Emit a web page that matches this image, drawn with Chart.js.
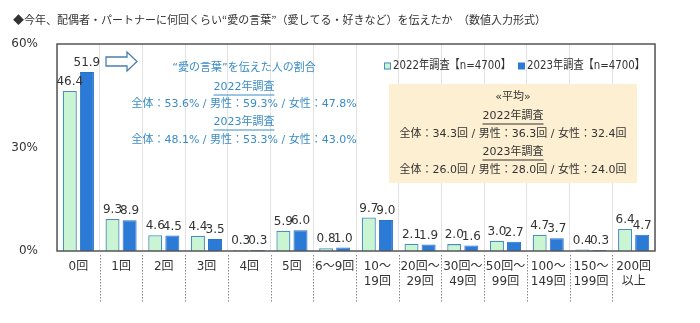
<!DOCTYPE html>
<html><head><meta charset="utf-8">
<script src="https://cdn.jsdelivr.net/npm/chart.js@4"></script>
<style>html,body{margin:0;padding:0;background:#fff;}#wrap{width:700px;height:323px;}</style>
</head><body><div id="wrap"><canvas id="c" width="700" height="323"></canvas></div>
<script>
const categories = [['0回'],['1回'],['2回'],['3回'],['4回'],['5回'],['6～9回'],['10～','19回'],['20回～','29回'],['30回～','49回'],['50回～','99回'],['100～','149回'],['150～','199回'],['200回','以上']];
const series2022 = [46.4, 9.3, 4.6, 4.4, 0.3, 5.9, 0.8, 9.7, 2.1, 2.0, 3.0, 4.7, 0.4, 6.4];
const series2023 = [51.9, 8.9, 4.5, 3.5, 0.3, 6.0, 1.0, 9.0, 1.9, 1.6, 2.7, 3.7, 0.3, 4.7];
const seriesNames = ['2022年調査【n=4700】', '2023年調査【n=4700】'];
const yTicks = [0, 30, 60];
const titleText = '◆今年、配偶者・パートナーに何回くらい“愛の言葉”（愛してる・好きなど）を伝えたか　（数値入力形式）';
const noteBlue = ['“愛の言葉”を伝えた人の割合', '2022年調査', '全体：53.6% / 男性：59.3% / 女性：47.8%', '2023年調査', '全体：48.1% / 男性：53.3% / 女性：43.0%'];
const noteAvg = ['«平均»', '2022年調査', '全体：34.3回 / 男性：36.3回 / 女性：32.4回', '2023年調査', '全体：26.0回 / 男性：28.0回 / 女性：24.0回'];

const FONT = '"DejaVu Sans","Noto Sans CJK JP",sans-serif';
const C22 = '#c9f5d3', B22 = '#4a8fbf', C23 = '#2b7bd6', B23 = '#2a72c4';

function underlineText(ctx, txt, x, y) {
  ctx.fillText(txt, x, y);
  const w = ctx.measureText(txt).width;
  ctx.beginPath();
  ctx.moveTo(x - w/2, y + 8); ctx.lineTo(x + w/2, y + 8);
  ctx.lineWidth = 1; ctx.strokeStyle = ctx.fillStyle; ctx.stroke();
}

const decor = {
  id: 'decor',
  beforeDatasetsDraw(chart) {
    const ctx = chart.ctx;
    ctx.save();
    ctx.fillStyle = '#fdf0d2';
    ctx.fillRect(389, 84, 248, 99);
    ctx.restore();
  },
  afterDatasetsDraw(chart) {
    const ctx = chart.ctx, a = chart.chartArea;
    ctx.save();
    ctx.strokeStyle = '#555'; ctx.lineWidth = 1.5;
    ctx.strokeRect(a.left, a.top, a.right - a.left, a.bottom - a.top);
    ctx.strokeStyle = '#888'; ctx.lineWidth = 1; ctx.setLineDash([1.5, 1.5]);
    const n = categories.length, step = (a.right - a.left) / n;
    for (let i = 1; i < n; i++) {
      const x = Math.round(a.left + step * i) + 0.5;
      ctx.beginPath(); ctx.moveTo(x, a.bottom + 4); ctx.lineTo(x, 303); ctx.stroke();
    }
    ctx.setLineDash([]);
    ctx.font = '12px ' + FONT; ctx.fillStyle = '#333'; ctx.textAlign = 'center'; ctx.textBaseline = 'bottom';
    chart.data.datasets.forEach((ds, di) => {
      chart.getDatasetMeta(di).data.forEach((bar, i) => {
        ctx.fillText(ds.data[i].toFixed(1), bar.x, bar.y - 3);
      });
    });
    ctx.textAlign = 'left'; ctx.textBaseline = 'middle';
    ctx.font = '11px "Noto Sans CJK JP",sans-serif'; ctx.fillStyle = '#333';
    ctx.fillText(titleText, 13, 20);
    ctx.strokeStyle = '#4a7fb0'; ctx.lineWidth = 1.3; ctx.fillStyle = '#fff';
    ctx.beginPath();
    ctx.moveTo(106, 57); ctx.lineTo(127, 57); ctx.lineTo(127, 52); ctx.lineTo(137, 61.5);
    ctx.lineTo(127, 71); ctx.lineTo(127, 66); ctx.lineTo(106, 66); ctx.closePath();
    ctx.fill(); ctx.stroke();
    ctx.font = '12px ' + FONT; ctx.textBaseline = 'middle'; ctx.textAlign = 'left';
    let lx = 384, ly = 66;
    ctx.fillStyle = C22; ctx.fillRect(lx, ly - 3.5, 7, 7);
    ctx.strokeStyle = B22; ctx.lineWidth = 1; ctx.strokeRect(lx + 0.5, ly - 3, 6, 6);
    ctx.fillStyle = '#333'; ctx.fillText(seriesNames[0], lx + 9, ly, 118);
    lx = 518;
    ctx.fillStyle = C23; ctx.fillRect(lx, ly - 3.5, 7, 7);
    ctx.fillStyle = '#333'; ctx.fillText(seriesNames[1], lx + 9, ly, 118);
    ctx.textAlign = 'center'; ctx.fillStyle = '#3b8cc6'; ctx.font = '11px ' + FONT;
    const bx = 244, by = [68, 87, 104, 122, 140];
    noteBlue.forEach((t, i) => {
      if (i === 1 || i === 3) underlineText(ctx, t, bx, by[i]); else ctx.fillText(t, bx, by[i]);
    });
    ctx.fillStyle = '#333';
    const ax = 513, ay = [97, 116, 134, 152, 170];
    noteAvg.forEach((t, i) => {
      if (i === 1 || i === 3) underlineText(ctx, t, ax, ay[i]); else ctx.fillText(t, ax, ay[i]);
    });
    ctx.restore();
  }
};

new Chart(document.getElementById('c'), {
  type: 'bar',
  data: {
    labels: categories,
    datasets: [
      { label: seriesNames[0], data: series2022, backgroundColor: C22, borderColor: B22, borderWidth: 1.3, categoryPercentage: 0.8, barPercentage: 0.82 },
      { label: seriesNames[1], data: series2023, backgroundColor: C23, borderColor: B23, borderWidth: 1, categoryPercentage: 0.8, barPercentage: 0.82 }
    ]
  },
  options: {
    responsive: false, animation: false,
    layout: { padding: { left: 0, top: 44, right: 45, bottom: 0 } },
    plugins: { legend: { display: false }, tooltip: { enabled: false } },
    scales: {
      x: {
        grid: { display: true, offset: true, color: '#e2e2e2', drawTicks: false },
        border: { display: false },
        ticks: { color: '#333', font: { size: 12, family: FONT }, padding: 9, maxRotation: 0, autoSkip: false },
        afterFit(s) { s.height = 72; }
      },
      y: {
        min: 0, max: 60,
        afterBuildTicks(s) { s.ticks = yTicks.map(v => ({ value: v })); },
        grid: { display: false },
        border: { display: false },
        ticks: { color: '#333', font: { size: 12, family: FONT }, padding: 11, callback: v => v + '%' },
        afterFit(s) { s.width = 57; }
      }
    }
  },
  plugins: [decor]
});
</script></body></html>
